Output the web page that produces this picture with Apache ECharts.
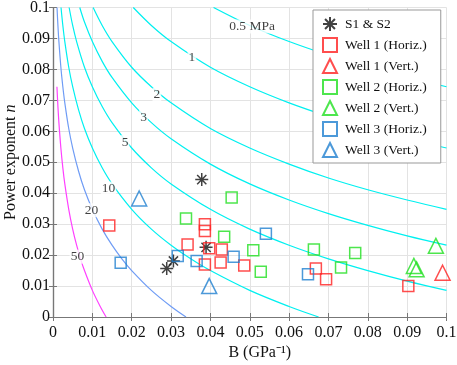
<!DOCTYPE html>
<html>
<head>
<meta charset="utf-8">
<script src="https://cdn.jsdelivr.net/npm/echarts@6/dist/echarts.min.js"></script>
<style>
  html, body { margin: 0; padding: 0; background: #fff; }
  #chart { width: 457px; height: 365px; }
</style>
</head>
<body>
<div id="chart"></div>
<script>
// tick labels
var bTicks = [0, 0.01, 0.02, 0.03, 0.04, 0.05, 0.06, 0.07, 0.08, 0.09, 0.1];
var nTicks = [0, 0.01, 0.02, 0.03, 0.04, 0.05, 0.06, 0.07, 0.08, 0.09, 0.1];

// pressure contours [B, n]
var curve05 = [[0.0408,0.1],[0.05,0.0942],[0.06,0.0890],[0.07,0.0846],[0.08,0.0807],[0.09,0.0774],[0.1,0.0744]];
var curve1 = [[0.0204,0.1],[0.025,0.0942],[0.03,0.0890],[0.04,0.0807],[0.05,0.0744],[0.06,0.0692],[0.07,0.0648],[0.08,0.0609],[0.09,0.0576],[0.1,0.0546]];
var curve2 = [[0.0102,0.1],[0.0125,0.0942],[0.015,0.0890],[0.02,0.0807],[0.025,0.0744],[0.03,0.0692],[0.04,0.0609],[0.05,0.0546],[0.06,0.0494],[0.07,0.0449],[0.08,0.0411],[0.09,0.0378],[0.1,0.0348]];
var curve3 = [[0.0068,0.1],[0.008,0.0953],[0.01,0.0890],[0.0125,0.0826],[0.015,0.0774],[0.02,0.0692],[0.025,0.0628],[0.03,0.0576],[0.04,0.0494],[0.05,0.0430],[0.06,0.0378],[0.07,0.0334],[0.08,0.0296],[0.09,0.0262],[0.1,0.0232]];
var curve5 = [[0.0041,0.1],[0.005,0.0942],[0.006,0.0890],[0.008,0.0807],[0.01,0.0744],[0.0125,0.0680],[0.015,0.0628],[0.02,0.0546],[0.025,0.0482],[0.03,0.0430],[0.04,0.0348],[0.05,0.0284],[0.06,0.0232],[0.07,0.0188],[0.08,0.0150],[0.09,0.0116],[0.1,0.0086]];
var curve10 = [[0.00204,0.1],[0.0025,0.0942],[0.003,0.0890],[0.004,0.0807],[0.005,0.0744],[0.0065,0.0669],[0.008,0.0609],[0.01,0.0546],[0.0125,0.0482],[0.015,0.0430],[0.02,0.0348],[0.025,0.0284],[0.03,0.0232],[0.035,0.0188],[0.04,0.0150],[0.05,0.0086],[0.06,0.0034],[0.0675,0]];
var curve20 = [[0.00102,0.1],[0.00125,0.0942],[0.0015,0.0890],[0.002,0.0807],[0.0025,0.0744],[0.003,0.0692],[0.004,0.0609],[0.005,0.0546],[0.0065,0.0471],[0.008,0.0411],[0.01,0.0348],[0.0125,0.0284],[0.015,0.0232],[0.0175,0.0188],[0.02,0.0150],[0.025,0.0086],[0.03,0.0034],[0.0338,0]];
var curve50 = [[0.001,0.0744],[0.00125,0.0680],[0.0015,0.0628],[0.002,0.0546],[0.0025,0.0482],[0.003,0.0430],[0.004,0.0348],[0.005,0.0284],[0.006,0.0232],[0.007,0.0188],[0.008,0.0150],[0.01,0.0086],[0.012,0.0034],[0.0135,0]];

// contour labels [B, n, text]
var contourLabels = [
  [0.0506, 0.0939, '0.5 MPa'], [0.0353, 0.0838, '1'], [0.0264, 0.0718, '2'],
  [0.0230, 0.0646, '3'], [0.0183, 0.0565, '5'], [0.0141, 0.0415, '10'],
  [0.0098, 0.0345, '20'], [0.0062, 0.0195, '50']
];

// measured points [B, n]
var s1s2 = [[0.0378,0.0444],[0.0389,0.0225],[0.0306,0.0181],[0.0289,0.0157]];
var well1H = [[0.0143,0.0296],[0.0386,0.0300],[0.0386,0.0278],[0.0342,0.0234],[0.0397,0.0222],[0.0429,0.0218],
              [0.0386,0.0170],[0.0426,0.0176],[0.0486,0.0166],[0.0668,0.0157],[0.0694,0.0122],[0.0903,0.0100]];
var well1V = [[0.0990,0.0143]];
var well2H = [[0.0454,0.0386],[0.0338,0.0318],[0.0435,0.0259],[0.0509,0.0216],[0.0528,0.0146],
              [0.0663,0.0218],[0.0732,0.0160],[0.0768,0.0207]];
var well2V = [[0.0973,0.0230],[0.0917,0.0165],[0.0924,0.0154]];
var well3H = [[0.0172,0.0175],[0.0317,0.0197],[0.0365,0.0181],[0.0459,0.0195],[0.0541,0.0269],[0.0648,0.0138]];
var well3V = [[0.0219,0.0383],[0.0397,0.0100]];

var serif = '"Liberation Serif", "Times New Roman", serif';
var axisCol = '#777';
var gridCol = '#e3e3e3';
var asterisk = 'path://M0,-10L0,10M-10,0L10,0M-7.07,-7.07L7.07,7.07M-7.07,7.07L7.07,-7.07';

function fmt(v) { return String(+v.toFixed(2)); }

function curve(data, color) {
  return { type: 'line', data: data, smooth: 0.35, showSymbol: false, symbol: 'none',
    lineStyle: { color: color, width: 1.2 }, silent: true, z: 2, clip: true };
}
function pts(name, data, symbol, size, color) {
  return { name: name, type: 'scatter', data: data, symbol: symbol, symbolSize: size,
    itemStyle: { color: 'rgba(255,255,255,0)', borderColor: color, borderWidth: 1.5 }, z: 5 };
}

var chart = echarts.init(document.getElementById('chart'));
var option = {
  animation: false,
  backgroundColor: '#fff',
  grid: { left: 53, top: 7.5, width: 393.5, height: 309.5, outerBoundsMode: 'none', containLabel: false },
  legend: {
    orient: 'vertical', left: 313, top: 10,
    padding: [6, 14, 5, 9], itemGap: 5, itemWidth: 14, itemHeight: 14,
    backgroundColor: '#fff', borderColor: '#999', borderWidth: 1,
    textStyle: { fontFamily: serif, fontSize: 13.5, lineHeight: 14, color: '#111', padding: [0, 0, 0, 3] },
    data: ['S1 & S2', 'Well 1 (Horiz.)', 'Well 1 (Vert.)', 'Well 2 (Horiz.)', 'Well 2 (Vert.)', 'Well 3 (Horiz.)', 'Well 3 (Vert.)']
  },
  xAxis: [{
    type: 'value', min: bTicks[0], max: bTicks[bTicks.length - 1], interval: 0.01,
    name: 'B (GPa\u207B\u00B9)', nameLocation: 'middle', nameGap: 28, nameMoveOverlap: false,
    nameTextStyle: { fontFamily: serif, fontSize: 16, color: '#111', padding: [0, 0, 0, 20] },
    axisLine: { lineStyle: { color: axisCol, width: 1.2 } },
    axisTick: { inside: true, length: 4, lineStyle: { color: axisCol } },
    axisLabel: { fontFamily: serif, fontSize: 16, color: '#111', margin: 8, formatter: fmt },
    splitLine: { show: true, lineStyle: { color: gridCol, width: 1 } }
  }, {
    type: 'value', position: 'top', min: 0, max: 0.1, interval: 0.01,
    axisLine: { show: true, lineStyle: { color: axisCol, width: 1.2 } },
    axisTick: { show: true, inside: true, length: 4, lineStyle: { color: axisCol } },
    axisLabel: { show: false }, splitLine: { show: false }
  }],
  yAxis: [{
    type: 'value', min: nTicks[0], max: nTicks[nTicks.length - 1], interval: 0.01,
    name: '{a|Power exponent }{i|n}', nameLocation: 'middle', nameGap: 34, nameMoveOverlap: false,
    nameTextStyle: { rich: {
      a: { fontFamily: serif, fontSize: 16, color: '#111' },
      i: { fontFamily: serif, fontSize: 16, color: '#111', fontStyle: 'italic' }
    } },
    axisLine: { lineStyle: { color: axisCol, width: 1.2 } },
    axisTick: { inside: true, length: 4, lineStyle: { color: axisCol } },
    axisLabel: { fontFamily: serif, fontSize: 16, color: '#111', margin: 3, formatter: fmt },
    splitLine: { show: true, lineStyle: { color: gridCol, width: 1 } }
  }, {
    type: 'value', position: 'right', min: 0, max: 0.1, interval: 0.01,
    axisLine: { show: true, lineStyle: { color: axisCol, width: 1.2 } },
    axisTick: { show: true, inside: true, length: 4, lineStyle: { color: axisCol } },
    axisLabel: { show: false }, splitLine: { show: false }
  }],
  series: [
    curve(curve05, '#00f0f0'), curve(curve1, '#00f0f0'), curve(curve2, '#00f0f0'),
    curve(curve3, '#00f0f0'), curve(curve5, '#00f0f0'), curve(curve10, '#00f0f0'),
    curve(curve20, '#6f9cf5'), curve(curve50, '#ff40ff'),
    {
      type: 'scatter', silent: true, symbolSize: 0, z: 3,
      data: contourLabels.map(function (d) { return { value: [d[0], d[1]], name: d[2] }; }),
      label: { show: true, position: 'inside', formatter: '{b}', fontFamily: serif, fontSize: 13.5,
        color: '#111', backgroundColor: '#fff', padding: [0, 1] }
    },
    pts('S1 & S2', s1s2, asterisk, 13, '#111'),
    pts('Well 1 (Horiz.)', well1H, 'rect', 11, '#ff2020'),
    pts('Well 1 (Vert.)', well1V, 'triangle', 15, '#ff2020'),
    pts('Well 2 (Horiz.)', well2H, 'rect', 11, '#20e020'),
    pts('Well 2 (Vert.)', well2V, 'triangle', 15, '#20e020'),
    pts('Well 3 (Horiz.)', well3H, 'rect', 11, '#1f7fd0'),
    pts('Well 3 (Vert.)', well3V, 'triangle', 15, '#1f7fd0')
  ]
};
chart.setOption(option);
</script>
</body>
</html>
